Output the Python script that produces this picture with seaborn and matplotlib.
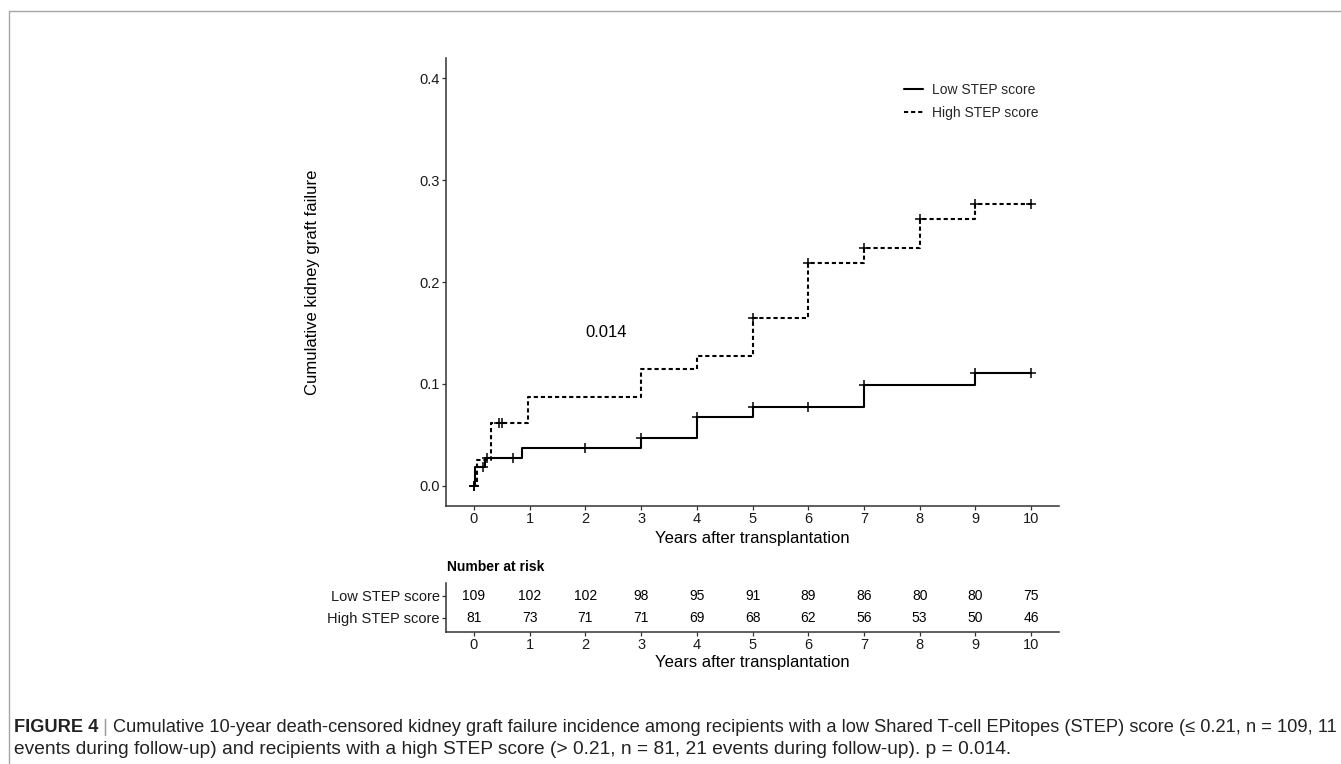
import numpy as np
import pandas as pd
import matplotlib
matplotlib.use("Agg")
import matplotlib.pyplot as plt
from matplotlib.lines import Line2D
import seaborn as sns

# ---------------- data ----------------
low_t = [0, 0.02, 0.2, 0.87, 3.0, 4.0, 5.0, 7.0, 9.0, 10.0]
low_y = [0, 0.0185, 0.0275, 0.0367, 0.0469, 0.0673, 0.0776, 0.0992, 0.1102, 0.1102]
low_cens_t = [0, 0.17, 0.24, 0.7, 2.0, 3.0, 4.0, 5.0, 6.0, 7.0, 9.0, 10.0]
low_cens_y = [0, 0.0185, 0.0275, 0.0275, 0.0367, 0.0469, 0.0673, 0.0776, 0.0776, 0.0992, 0.1102, 0.1102]

high_t = [0, 0.06, 0.3, 0.98, 3.0, 4.0, 5.0, 6.0, 7.0, 8.0, 9.0, 10.0]
high_y = [0, 0.0247, 0.0617, 0.0875, 0.1147, 0.1278, 0.165, 0.219, 0.233, 0.2615, 0.2765, 0.2765]
high_cens_t = [0, 0.45, 0.5, 5.0, 6.0, 7.0, 8.0, 9.0, 10.0]
high_cens_y = [0, 0.0617, 0.0617, 0.165, 0.219, 0.233, 0.2615, 0.2765, 0.2765]

years = list(range(0, 11))
low_risk = [109, 102, 102, 98, 95, 91, 89, 86, 80, 80, 75]
high_risk = [81, 73, 71, 71, 69, 68, 62, 56, 53, 50, 46]
groups = ["Low STEP score", "High STEP score"]
pval_text = "0.014"

caption_bold = "FIGURE 4"
caption_1 = ("Cumulative 10-year death-censored kidney graft failure incidence among recipients "
             "with a low Shared T-cell EPitopes (STEP) score (\u2264 0.21, n = 109, 11")
caption_2 = ("events during follow-up) and recipients with a high STEP score "
             "(> 0.21, n = 81, 21 events during follow-up). p = 0.014.")

curves = pd.concat([
    pd.DataFrame({"time": low_t, "cuminc": low_y, "group": groups[0]}),
    pd.DataFrame({"time": high_t, "cuminc": high_y, "group": groups[1]}),
])
cens = pd.concat([
    pd.DataFrame({"time": low_cens_t, "cuminc": low_cens_y, "group": groups[0]}),
    pd.DataFrame({"time": high_cens_t, "cuminc": high_cens_y, "group": groups[1]}),
])

# ---------------- style ----------------
sns.set_theme(style="ticks")
plt.rcParams["font.family"] = ["Liberation Sans", "DejaVu Sans"]
AX_COL = "#333333"
plt.rcParams.update({
    "axes.edgecolor": AX_COL, "axes.linewidth": 1.1,
    "xtick.color": AX_COL, "ytick.color": AX_COL,
    "xtick.labelcolor": "#1a1a1a", "ytick.labelcolor": "#1a1a1a",
    "xtick.major.size": 3, "ytick.major.size": 3,
    "xtick.major.width": 0.9, "ytick.major.width": 0.9,
    "xtick.major.pad": 1.5, "ytick.major.pad": 1.5,
})

W, H = 1341, 764
fig = plt.figure(figsize=(W / 100, H / 100), dpi=100)


def fbox(l, t, r, b):
    return [l / W, 1 - b / H, (r - l) / W, (b - t) / H]


# ---------------- main plot ----------------
ax = fig.add_axes(fbox(446, 58, 1059, 506))
sns.lineplot(data=curves, x="time", y="cuminc", style="group", style_order=groups,
             dashes={groups[0]: "", groups[1]: (2.0, 1.4)}, color="black",
             drawstyle="steps-post", estimator=None, lw=1.5, legend=False, ax=ax)
sns.scatterplot(data=cens, x="time", y="cuminc", marker="+", color="black",
                s=60, linewidth=1.1, legend=False, ax=ax, zorder=3)

ax.set_xlim(-0.5, 10.5)
ax.set_ylim(-0.02, 0.42)
ax.set_xticks(years)
ax.set_yticks([0, 0.1, 0.2, 0.3, 0.4])
ax.set_yticklabels(["0.0", "0.1", "0.2", "0.3", "0.4"])
ax.tick_params(labelsize=10.5)
ax.set_xlabel("")
ax.set_ylabel("")
sns.despine(ax=ax)

ax.text(2.0, 0.15, pval_text, fontsize=12, ha="left", va="center", color="black")

handles = [Line2D([], [], color="black", lw=1.5),
           Line2D([], [], color="black", lw=1.5, dashes=(2.0, 1.4))]
ax.legend(handles, groups, loc="upper right", bbox_to_anchor=(1038 / W, 1 - 83 / H),
          bbox_transform=fig.transFigure, frameon=False, fontsize=10,
          handlelength=1.4, handletextpad=0.6, labelspacing=0.62,
          borderpad=0, borderaxespad=0)

fig.text(752 / W, 1 - 538 / H, "Years after transplantation", fontsize=12,
         ha="center", va="center", color="black")
fig.text(313 / W, 1 - 282 / H, "Cumulative kidney graft failure", fontsize=12,
         rotation=90, ha="center", va="center", color="black")

# ---------------- number at risk table ----------------
ax2 = fig.add_axes(fbox(446, 583, 1059, 632))
for yr, lo, hi in zip(years, low_risk, high_risk):
    ax2.text(yr, 2, str(lo), fontsize=10, ha="center", va="center", color="black")
    ax2.text(yr, 1, str(hi), fontsize=10, ha="center", va="center", color="black")
ax2.set_xlim(-0.5, 10.5)
ax2.set_ylim(0.36, 2.59)
ax2.set_xticks(years)
ax2.set_yticks([2, 1])
ax2.set_yticklabels(groups)
ax2.tick_params(labelsize=10.5)
sns.despine(ax=ax2)

fig.text(447 / W, 1 - 567 / H, "Number at risk", fontsize=10, fontweight="bold",
         ha="left", va="center", color="black")
fig.text(752 / W, 1 - 662 / H, "Years after transplantation", fontsize=12,
         ha="center", va="center", color="black")

# ---------------- frame and caption ----------------
fig.add_artist(Line2D([9 / W, 1], [1 - 11 / H, 1 - 11 / H], transform=fig.transFigure,
                      color="#a6a6a6", lw=1.0))
fig.add_artist(Line2D([9 / W, 9 / W], [1 - 11 / H, 0], transform=fig.transFigure,
                      color="#a6a6a6", lw=1.0))

cap_fs = 12
c1 = fig.text(14 / W, 1 - 727 / H, caption_bold, fontsize=cap_fs, fontweight="bold",
              ha="left", va="center", color="#222222")
c2 = ax.annotate(" | ", xy=(1, 0), xycoords=c1, ha="left", va="bottom",
                 fontsize=cap_fs, color="#999999", annotation_clip=False)
c3 = ax.annotate(caption_1, xy=(1, 0), xycoords=c2, ha="left", va="bottom",
                 fontsize=cap_fs, color="#222222", annotation_clip=False)
c4 = fig.text(14 / W, 1 - 750 / H, caption_2, fontsize=cap_fs, ha="left", va="center",
              color="#222222")

# scale the caption lines so they run as wide as in the original
fig.canvas.draw()
scale = (1338 - 14) / (c3.get_window_extent().x1 - 14)
for t in (c1, c2, c3):
    t.set_fontsize(cap_fs * scale)
scale2 = (1011 - 14) / (c4.get_window_extent().x1 - 14)
c4.set_fontsize(cap_fs * scale2)

fig.savefig("out.png", dpi=100)
